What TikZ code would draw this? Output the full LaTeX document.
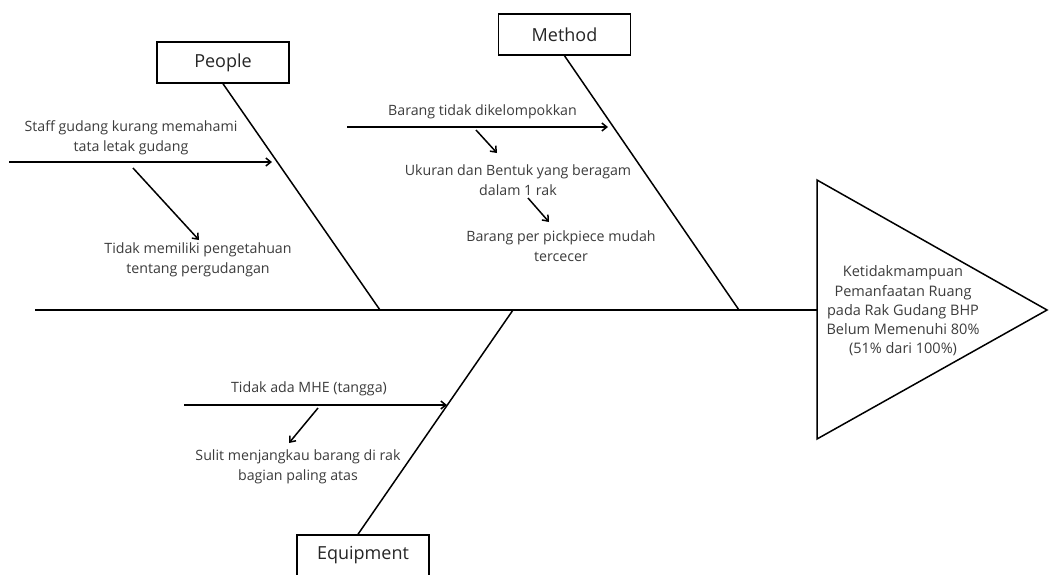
\documentclass[tikz,border=0pt]{standalone}
\usepackage{fontspec}
\setmainfont{Open Sans}
\usetikzlibrary{arrows.meta}
\definecolor{txt}{RGB}{60,60,60}
\begin{document}
\begin{tikzpicture}[x=1pt,y=-1pt,
  line/.style={line width=1.5pt,black},
  arr/.style={line width=1.5pt,black,-{Straight Barb[length=5pt,width=8pt,line width=1.5pt]}},
  catbox/.style={draw,line width=1.5pt,minimum width=132pt,minimum height=41pt,inner sep=0pt,font=\fontsize{18}{21}\selectfont,text=black!85},
  cause/.style={align=center,font=\fontsize{14.2}{20}\selectfont,text=txt,inner sep=0pt},
  efftext/.style={align=center,font=\fontsize{14.5}{19.2}\selectfont,text=txt,inner sep=0pt}]
\useasboundingbox (0,0) rectangle (1049,574);
\clip (0,0) rectangle (1049,574);
\fill[white] (0,0) rectangle (1049,574);

% effect triangle
\coordinate (tA) at (817,180);
\coordinate (tB) at (817,439);
\coordinate (tC) at (1047,310);
\draw[line,line join=miter] (tA) -- (tC) -- (tB) -- cycle;
\node[efftext] (effect) at (903,311) {Ketidakmampuan\\Pemanfaatan Ruang\\pada Rak Gudang BHP\\Belum Memenuhi 80\%\\(51\% dari 100\%)};

% spine
\coordinate (spL) at (35,310);
\coordinate (spR) at (817,310);
\draw[line] (spL) -- (spR);

% categories
\node[catbox] (people) at (223,62.5) {People};
\node[catbox] (method) at (564.5,34.5) {Method};
\node[catbox] (equip) at (363,555.5) {Equipment};

\coordinate (pJ) at (380,310);
\coordinate (mJ) at (739,310);
\coordinate (eJ) at (513,310);
\draw[line] (people.south) -- (pJ);
\draw[line] (method.south) -- (mJ);
\draw[line] ([xshift=-5pt]equip.north) -- (eJ);

% People causes
\coordinate (p1s) at (9,162);
\coordinate (p1e) at (272,162);
\draw[arr] (p1s) -- (p1e);
\node[cause] (p1) at (131,138) {Staff gudang kurang memahami\\tata letak gudang};
\node[cause] (p2) at (198,260) {Tidak memiliki pengetahuan\\tentang pergudangan};
\coordinate (p2s) at (133,168);
\coordinate (p2e) at (199,240);
\draw[arr] (p2s) -- (p2e);

% Method causes
\coordinate (m1s) at (347,127);
\coordinate (m1e) at (608,127);
\draw[arr] (m1s) -- (m1e);
\node[cause] (m1) at (482.5,112) {Barang tidak dikelompokkan};
\node[cause] (m2) at (518,180) {Ukuran dan Bentuk yang beragam\\dalam 1 rak};
\node[cause] (m3) at (561,246.5) {Barang per pickpiece mudah\\tercecer};
\coordinate (m2s) at (476,130);
\coordinate (m2e) at (497,153);
\draw[arr] (m2s) -- (m2e);
\coordinate (m3s) at (528,198);
\coordinate (m3e) at (549,222);
\draw[arr] (m3s) -- (m3e);

% Equipment causes
\coordinate (e1s) at (184,405);
\coordinate (e1e) at (447,405);
\draw[arr] (e1s) -- (e1e);
\node[cause] (e1) at (309,389) {Tidak ada MHE (tangga)};
\node[cause] (e2) at (298,467) {Sulit menjangkau barang di rak\\bagian paling atas};
\coordinate (e2s) at (318,408);
\coordinate (e2e) at (289,443);
\draw[arr] (e2s) -- (e2e);
\end{tikzpicture}
\end{document}
